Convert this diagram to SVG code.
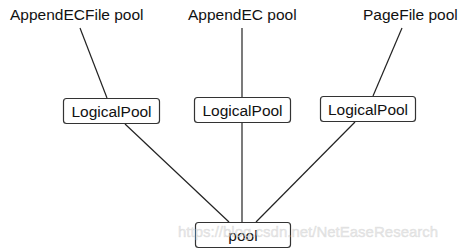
<svg xmlns="http://www.w3.org/2000/svg" width="462" height="250" viewBox="0 0 462 250">
<style>
text{font-family:"Liberation Sans",Arial,sans-serif;font-size:15.5px;fill:#111}
.box{fill:#fff;stroke:#333;stroke-width:1.2}
.c{stroke:#222;stroke-width:1.2;fill:none}
.wm{font-size:15px;fill:#ddd;fill-opacity:0.6;stroke:#bbb;stroke-opacity:0.35;stroke-width:0.6}
</style>
<rect width="462" height="250" fill="#fff"/>
<g id="connectors">
<line class="c" x1="80" y1="28" x2="107" y2="98"/>
<line class="c" x1="242" y1="28" x2="242" y2="97"/>
<line class="c" x1="402" y1="28" x2="373" y2="96"/>
<line class="c" x1="125" y1="124" x2="229" y2="222"/>
<line class="c" x1="242" y1="123" x2="242" y2="222"/>
<line class="c" x1="355" y1="122" x2="256" y2="222"/>
</g>
<g id="label-appendecfile"><text x="10" y="20">AppendECFile pool</text></g>
<g id="label-appendec"><text x="188" y="20">AppendEC pool</text></g>
<g id="label-pagefile"><text x="363" y="20">PageFile pool</text></g>
<g id="lp1"><rect class="box" x="63.5" y="98.5" width="96" height="25" rx="3"/><text x="111.5" y="116.5" text-anchor="middle">LogicalPool</text></g>
<g id="lp2"><rect class="box" x="194.5" y="97.5" width="96" height="25" rx="3"/><text x="242.5" y="115.5" text-anchor="middle">LogicalPool</text></g>
<g id="lp3"><rect class="box" x="320.5" y="96.5" width="95" height="25" rx="3"/><text x="368" y="114.5" text-anchor="middle">LogicalPool</text></g>
<g id="pool"><rect class="box" x="195.5" y="222.5" width="95" height="25" rx="3"/><text x="243" y="241" text-anchor="middle">pool</text></g>
<text class="wm" x="178" y="237">https://blog.csdn.net/NetEaseResearch</text>
</svg>
